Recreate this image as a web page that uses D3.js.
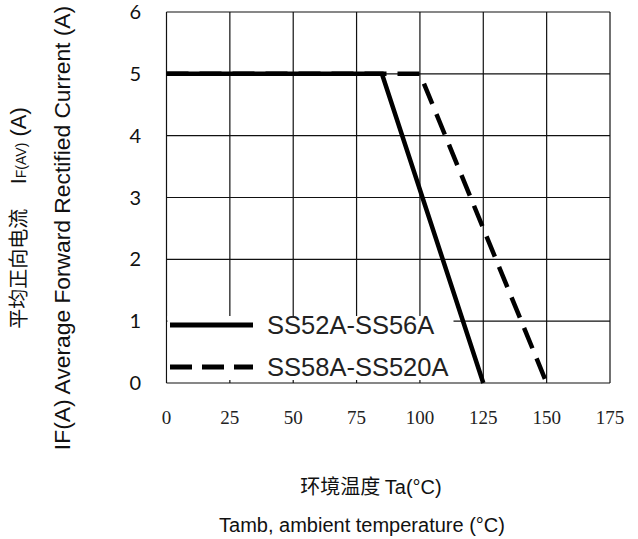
<!DOCTYPE html>
<html><head><meta charset="utf-8">
<script src="https://cdn.jsdelivr.net/npm/d3@7"></script>
<style>body{margin:0;background:#fff}</style>
</head><body>
<script>
const xTicks = [0, 25, 50, 75, 100, 125, 150, 175];
const yTicks = [0, 1, 2, 3, 4, 5, 6];
const seriesNames = ["SS52A-SS56A", "SS58A-SS520A"];
const solidTemp = [0, 85, 125];
const solidCurrent = [5, 5, 0];
const dashTemp = [0, 100, 150];
const dashCurrent = [5, 5, 0];

const W = 638, H = 539;
const svg = d3.select("body").append("svg").attr("width", W).attr("height", H);
const m = {l: 166.5, r: 610, t: 12, b: 383};
const x = d3.scaleLinear().domain([0, 175]).range([m.l, m.r]);
const y = d3.scaleLinear().domain([0, 6]).range([m.b, m.t]);

// grid
svg.append("g").selectAll("line").data(xTicks).join("line")
  .attr("x1", d => x(d)).attr("x2", d => x(d)).attr("y1", m.t).attr("y2", m.b)
  .attr("stroke", "#111").attr("stroke-width", 1.2);
svg.append("g").selectAll("line").data(yTicks).join("line")
  .attr("x1", m.l).attr("x2", m.r).attr("y1", d => y(d)).attr("y2", d => y(d))
  .attr("stroke", "#111").attr("stroke-width", 1.2);

// tick labels
svg.append("g").selectAll("text").data(xTicks).join("text")
  .attr("x", d => x(d)).attr("y", 424).attr("text-anchor", "middle")
  .attr("font-family", "Liberation Serif").attr("font-size", 19).attr("fill", "#222")
  .text(d => d);
svg.append("g").selectAll("text").data(yTicks).join("text")
  .attr("x", 141).attr("y", d => y(d) + 7).attr("text-anchor", "end")
  .attr("font-family", "Lato").attr("font-size", 20).attr("fill", "#111")
  .text(d => d);

// legend background
const lg = svg.append("g");
lg.append("rect").attr("x", m.l + 1).attr("y", 316).attr("width", 286).attr("height", 64).attr("fill", "#fff");

// curves
const line = d3.line().x(d => x(d[0])).y(d => y(d[1]));
const solidPts = solidTemp.map((t, i) => [t, solidCurrent[i]]);
const dashPts = dashTemp.map((t, i) => [t, dashCurrent[i]]);
svg.append("path").attr("d", line(dashPts)).attr("fill", "none").attr("stroke", "#000")
  .attr("stroke-width", 4.5).attr("stroke-dasharray", "22,11");
svg.append("path").attr("d", line(solidPts)).attr("fill", "none").attr("stroke", "#000")
  .attr("stroke-width", 4.5);

// legend
const legY = [325, 367];
lg.append("line").attr("x1", 170).attr("x2", 253).attr("y1", legY[0]).attr("y2", legY[0])
  .attr("stroke", "#000").attr("stroke-width", 5);
lg.append("line").attr("x1", 170).attr("x2", 253).attr("y1", legY[1]).attr("y2", legY[1])
  .attr("stroke", "#000").attr("stroke-width", 5).attr("stroke-dasharray", "22,10");
lg.selectAll("text").data(seriesNames).join("text")
  .attr("x", 267).attr("y", (d, i) => legY[i] + 9)
  .attr("font-family", "Liberation Sans").attr("font-size", 25.5).attr("fill", "#222")
  .text(d => d);

// x titles
svg.append("text").attr("x", 371).attr("y", 494).attr("text-anchor", "middle")
  .attr("font-size", 20).attr("fill", "#111")
  .call(t => {
    t.append("tspan").attr("font-family", "Noto Sans CJK SC").text("环境温度 ");
    t.append("tspan").attr("font-family", "Liberation Sans").text("Ta(°C)");
  });
svg.append("text").attr("x", 362).attr("y", 532).attr("text-anchor", "middle")
  .attr("font-family", "Liberation Sans").attr("font-size", 20).attr("fill", "#111")
  .text("Tamb, ambient temperature (°C)");

// y titles
const yt1 = svg.append("text").attr("transform", "translate(26,218) rotate(-90)")
  .attr("text-anchor", "middle").attr("fill", "#111");
yt1.append("tspan").attr("font-family", "Noto Sans CJK SC").attr("font-size", 20).text("平均正向电流　 ");
yt1.append("tspan").attr("font-family", "Liberation Sans").attr("font-size", 22).text("I");
yt1.append("tspan").attr("font-family", "Liberation Sans").attr("font-size", 14).text("F(AV)");
yt1.append("tspan").attr("font-family", "Liberation Sans").attr("font-size", 22).text(" (A)");

svg.append("text").attr("transform", "translate(70,228) rotate(-90)")
  .attr("text-anchor", "middle").attr("fill", "#111")
  .attr("font-family", "Liberation Sans").attr("font-size", 22.8)
  .text("IF(A)  Average Forward Rectified Current (A)");
</script>
</body></html>
